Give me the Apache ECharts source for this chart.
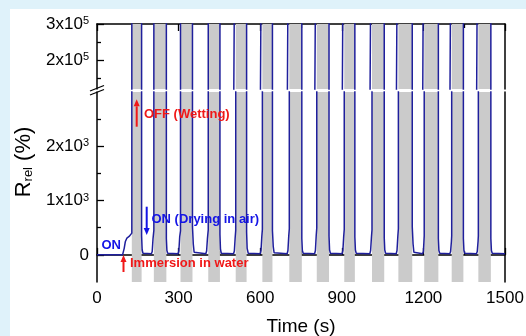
<!DOCTYPE html>
<html>
<head>
<meta charset="utf-8">
<script src="https://cdn.jsdelivr.net/npm/echarts@6/dist/echarts.min.js"></script>
<style>
  html, body { margin: 0; padding: 0; background: #dff2fa; }
  #chart { width: 526px; height: 336px; }
</style>
</head>
<body>
<div id="chart"></div>
<script>
// Relative resistance vs time.
// 1e6 stands for "off the top of the scale" (wet state).
const OFF = 1e6;

const timeS = [
  0, 94, 97, 100, 104, 110, 118, 124, 128,
  128, 164,
  164, 166, 169, 174, 200, 203, 206, 209,
  209, 255,
  255, 257, 260, 265, 298, 301, 304, 307,
  307, 351,
  351, 354, 357, 362, 400, 403, 406, 409,
  409, 452,
  452, 454, 457, 462, 502, 505, 508, 510,
  510, 550,
  550, 552, 556, 560, 600, 603, 606, 608,
  608, 645,
  645, 648, 651, 656, 699, 702, 705, 707,
  707, 753,
  753, 755, 758, 763, 800, 803, 806, 808,
  808, 853,
  853, 855, 858, 863, 901, 904, 907, 909,
  909, 948,
  948, 950, 953, 958, 1003, 1006, 1009, 1011,
  1011, 1056,
  1056, 1058, 1061, 1066, 1100, 1103, 1106, 1108,
  1108, 1159,
  1159, 1162, 1165, 1170, 1197, 1200, 1202, 1203,
  1203, 1255,
  1255, 1257, 1260, 1265, 1297, 1300, 1303, 1304,
  1304, 1347,
  1347, 1349, 1352, 1357, 1395, 1398, 1401, 1402,
  1402, 1448,
  1448, 1450, 1453, 1458, 1500
];

const rRel = [
  0, 0, 30, 120, 240, 310, 340, 370, 400,
  OFF, OFF,
  350, 90, 30, 20, 20, 60, 300, 450,
  OFF, OFF,
  300, 80, 30, 20, 20, 70, 330, 440,
  OFF, OFF,
  520, 200, 50, 20, 20, 70, 300, 460,
  OFF, OFF,
  380, 100, 30, 20, 20, 70, 320, 450,
  OFF, OFF,
  420, 120, 30, 20, 20, 80, 340, 470,
  OFF, OFF,
  450, 150, 40, 20, 20, 80, 350, 480,
  OFF, OFF,
  300, 80, 30, 20, 20, 80, 360, 500,
  OFF, OFF,
  350, 90, 30, 20, 20, 80, 340, 470,
  OFF, OFF,
  330, 90, 30, 20, 20, 80, 330, 460,
  OFF, OFF,
  320, 90, 30, 20, 20, 80, 340, 480,
  OFF, OFF,
  520, 200, 50, 20, 20, 60, 250, 350,
  OFF, OFF,
  300, 80, 30, 20, 20, 60, 250, 350,
  OFF, OFF,
  300, 80, 30, 20, 20, 60, 250, 350,
  OFF, OFF,
  300, 80, 30, 20, 20
];

// grey bands = wetting periods
const bandStart = [128, 209, 307, 409, 510, 608, 707, 808, 909, 1011, 1108, 1203, 1304, 1402];
const bandEnd   = [164, 255, 351, 452, 550, 645, 753, 853, 948, 1056, 1159, 1255, 1347, 1448];

// tick values for the broken y axis
const upperMajor = [200000, 300000];
const upperMinor = [150000, 250000];
const lowerMajor = [0, 1000, 2000];
const lowerMinor = [500, 1500, 2500];

const FONT = '"Liberation Sans", Arial, sans-serif';
const LINE = '#1f1f9c';
const BAND = '#cbcbcb';
const RED = '#f01818';
const BLUE = '#1414e6';

const pts = timeS.map((t, i) => [t, rRel[i]]);
const bands = bandStart.map((s, i) => [{ xAxis: s }, { xAxis: bandEnd[i] }]);

const chart = echarts.init(document.getElementById('chart'));

const black = { color: '#000', width: 1.5 };
const tickStyle = { color: '#000', width: 1.3 };

const supRich = {
  b: { fontSize: 17, fontFamily: FONT, color: '#000' },
  s: { fontSize: 11, fontFamily: FONT, color: '#000', verticalAlign: 'top' }
};

function sciLabel(exp, div) {
  return v => (v === 0 ? '{b|0}' : `{b|${Math.round(v / div)}x10}{s|${exp}}`);
}

function xAxisBase(grid, pos, labels) {
  return {
    gridIndex: grid, type: 'value', min: 0, max: 1500, interval: 300, position: pos,
    axisLine: { show: true, lineStyle: black },
    axisTick: { show: true, inside: true, length: 7, lineStyle: tickStyle },
    minorTick: { show: true, splitNumber: 2, length: 4, lineStyle: tickStyle },
    axisLabel: labels
      ? { show: true, fontSize: 17, fontFamily: FONT, color: '#000', margin: 8, formatter: v => String(v) }
      : { show: false },
    splitLine: { show: false }
  };
}

function yMajor(grid, min, max, vals, fmt) {
  return {
    gridIndex: grid, type: 'value', min, max, position: 'left',
    axisLine: { show: true, lineStyle: black },
    axisTick: { show: true, inside: true, length: 7, lineStyle: tickStyle, customValues: vals },
    axisLabel: { show: true, margin: 8, customValues: vals, formatter: fmt, rich: supRich },
    splitLine: { show: false }
  };
}

function yMinor(grid, min, max, vals) {
  return {
    gridIndex: grid, type: 'value', min, max, position: 'left',
    axisLine: { show: false },
    axisTick: { show: true, inside: true, length: 4, lineStyle: tickStyle, customValues: vals },
    axisLabel: { show: false },
    splitLine: { show: false }
  };
}

function yRight(grid, min, max) {
  return {
    gridIndex: grid, type: 'value', min, max, position: 'right',
    axisLine: { show: true, lineStyle: black },
    axisTick: { show: false }, axisLabel: { show: false }, splitLine: { show: false }
  };
}

const xBottom = xAxisBase(1, 'bottom', true);
xBottom.name = 'Time (s)';
xBottom.nameLocation = 'middle';
xBottom.nameGap = 35;
xBottom.nameTextStyle = { fontSize: 19, fontFamily: FONT, color: '#000' };

function lineSeries(xi, yi) {
  return {
    type: 'line', xAxisIndex: xi, yAxisIndex: yi, data: pts,
    symbol: 'none', clip: true, animation: false,
    lineStyle: { color: LINE, width: 1.5 },
    markArea: { silent: true, itemStyle: { color: BAND }, data: bands }
  };
}

function arrow(x, yTail, yTip, color) {
  const dir = yTip < yTail ? 1 : -1;
  const yBase = yTip + dir * 7;
  return [
    { type: 'line', z: 50, shape: { x1: x, y1: yTail, x2: x, y2: yBase }, style: { stroke: color, lineWidth: 2 } },
    { type: 'polygon', z: 50, shape: { points: [[x - 3, yBase], [x + 3, yBase], [x, yTip]] }, style: { fill: color } }
  ];
}

function note(x, y, text, color) {
  return {
    type: 'text', x, y, z: 50,
    style: { text, fill: color, font: 'bold 13px ' + FONT, verticalAlign: 'middle' }
  };
}

chart.setOption({
  backgroundColor: '#dff2fa',
  animation: false,
  grid: [
    { left: 97, right: 21, top: 24, height: 65, outerBoundsMode: 'none' },
    { left: 97, right: 21, top: 92, height: 190, outerBoundsMode: 'none' }
  ],
  xAxis: [xAxisBase(0, 'top', false), xBottom],
  yAxis: [
    yMajor(0, 120000, 300000, upperMajor, sciLabel(5, 1e5)),
    yMinor(0, 120000, 300000, upperMinor),
    yRight(0, 120000, 300000),
    yMajor(1, -500, 3000, lowerMajor, sciLabel(3, 1e3)),
    yMinor(1, -500, 3000, lowerMinor),
    yRight(1, -500, 3000)
  ],
  series: [lineSeries(0, 0), lineSeries(1, 3)],
  graphic: [
    { type: 'rect', z: -100, silent: true, shape: { x: 10, y: 9, width: 516, height: 327 }, style: { fill: '#fff' } },
    // axis break marks
    { type: 'line', z: 50, shape: { x1: 90, y1: 91, x2: 104, y2: 85.5 }, style: { stroke: '#000', lineWidth: 1.3 } },
    { type: 'line', z: 50, shape: { x1: 90, y1: 95, x2: 104, y2: 89.5 }, style: { stroke: '#000', lineWidth: 1.3 } },
    {
      type: 'text', x: 24, y: 162, rotation: Math.PI / 2,
      style: {
        text: '{a|R}{s|rel}{a| (%)}', align: 'center', verticalAlign: 'middle',
        rich: {
          a: { fontSize: 22, fontFamily: FONT, fill: '#000' },
          s: { fontSize: 13, fontFamily: FONT, fill: '#000', verticalAlign: 'bottom' }
        }
      }
    },
    note(101.5, 245, 'ON', BLUE),
    note(130, 263.5, 'Immersion in water', RED),
    note(151.5, 219.5, 'ON (Drying in air)', BLUE),
    note(144, 114, 'OFF (Wetting)', RED),
    ...arrow(123.5, 272, 255, RED),
    ...arrow(146.7, 206.7, 235, BLUE),
    ...arrow(136.7, 126.7, 99.3, RED)
  ]
});
</script>
</body>
</html>
